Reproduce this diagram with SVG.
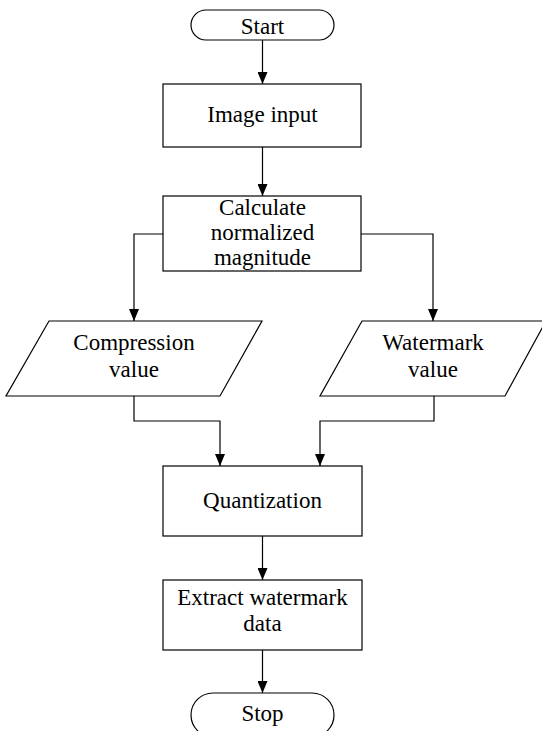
<svg xmlns="http://www.w3.org/2000/svg" width="542" height="731" viewBox="0 0 542 731">
  <style>
    .shape { fill: #ffffff; stroke: #000000; stroke-width: 1.2; }
    .edge { fill: none; stroke: #000000; stroke-width: 1.2; }
    .caption { font-family: 'Liberation Serif', serif; font-size: 23px; fill: #000000; text-anchor: middle; }
  </style>
  <defs>
    <marker id="arrow" viewBox="0 0 12 10" refX="12" refY="5" markerWidth="12" markerHeight="10" markerUnits="userSpaceOnUse" orient="auto">
      <path d="M0,0 L12,5 L0,10 z" fill="#000000"/>
    </marker>
  </defs>
  <rect width="542" height="731" fill="#ffffff"/>

  <g id="connectors">
    <path class="edge" d="M262.5,40 V84" marker-end="url(#arrow)"/>
    <path class="edge" d="M262.5,147 V196" marker-end="url(#arrow)"/>
    <path class="edge" d="M163,234 H134 V321" marker-end="url(#arrow)"/>
    <path class="edge" d="M361,234 H433 V321" marker-end="url(#arrow)"/>
    <path class="edge" d="M134,396 V421 H220 V466" marker-end="url(#arrow)"/>
    <path class="edge" d="M434,396 V421 H320 V466" marker-end="url(#arrow)"/>
    <path class="edge" d="M262.5,536 V580" marker-end="url(#arrow)"/>
    <path class="edge" d="M262.5,650 V693" marker-end="url(#arrow)"/>
  </g>

  <g id="start">
    <rect class="shape" x="191" y="10" width="143" height="30" rx="15" ry="15"/>
    <text class="caption" x="262.5" y="34">Start</text>
  </g>

  <g id="image-input">
    <rect class="shape" x="163" y="84" width="198" height="63"/>
    <text class="caption" x="262.5" y="122">Image input</text>
  </g>

  <g id="normalized-magnitude">
    <rect class="shape" x="163" y="196" width="198" height="75"/>
    <text class="caption" x="262.5" y="215">Calculate</text>
    <text class="caption" x="262.5" y="240">normalized</text>
    <text class="caption" x="262.5" y="265">magnitude</text>
  </g>

  <g id="compression-value">
    <polygon class="shape" points="49,321 262,321 220,396 6,396"/>
    <text class="caption" x="134" y="350">Compression</text>
    <text class="caption" x="134" y="377">value</text>
  </g>

  <g id="watermark-value">
    <polygon class="shape" points="362,321 546,321 505,396 320,396"/>
    <text class="caption" x="433" y="350">Watermark</text>
    <text class="caption" x="433" y="377">value</text>
  </g>

  <g id="quantization">
    <rect class="shape" x="163" y="466" width="199" height="70"/>
    <text class="caption" x="262.5" y="508">Quantization</text>
  </g>

  <g id="extract-watermark">
    <rect class="shape" x="163" y="580" width="199" height="70"/>
    <text class="caption" x="262.5" y="605">Extract watermark</text>
    <text class="caption" x="262.5" y="631">data</text>
  </g>

  <g id="stop">
    <rect class="shape" x="191" y="693" width="143" height="44" rx="22" ry="22"/>
    <text class="caption" x="262.5" y="721">Stop</text>
  </g>
</svg>
